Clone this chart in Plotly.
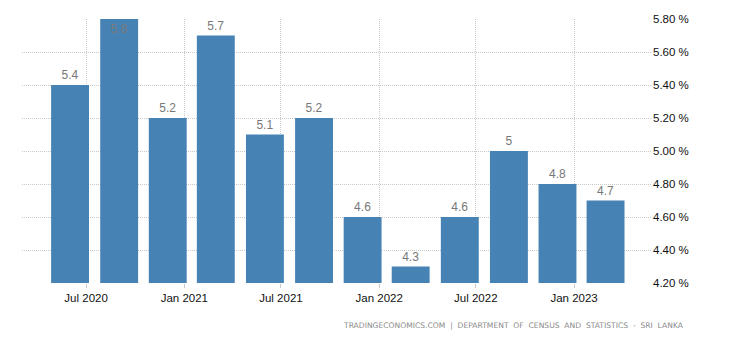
import plotly.graph_objects as go

dates = ["2020-06-01", "2020-09-01", "2020-12-01", "2021-03-01", "2021-06-01", "2021-09-01",
         "2021-12-01", "2022-03-01", "2022-06-01", "2022-09-01", "2022-12-01", "2023-03-01"]
values = [5.4, 5.8, 5.2, 5.7, 5.1, 5.2, 4.6, 4.3, 4.6, 5.0, 4.8, 4.7]
labels = ["5.4", "5.8", "5.2", "5.7", "5.1", "5.2", "4.6", "4.3", "4.6", "5", "4.8", "4.7"]
y_range = [4.2, 5.8]
source = "TRADINGECONOMICS.COM  |  DEPARTMENT  OF  CENSUS  AND  STATISTICS  -  SRI  LANKA"

FONT = "Liberation Sans, Arial, sans-serif"
DAY_MS = 86400000
GRID = "#c8c8c8"

positions = ["inside" if v >= y_range[1] else "outside" for v in values]

fig = go.Figure(go.Bar(
    x=dates, y=values, text=labels, textposition=positions,
    insidetextanchor="end", textangle=0,
    width=71 * DAY_MS,
    marker=dict(color="#4682B4", line=dict(width=0)),
    textfont=dict(family=FONT, size=12, color="#777777"),
    insidetextfont=dict(family=FONT, size=12, color="#7a7a7a"),
    outsidetextfont=dict(family=FONT, size=12, color="#777777"),
    hoverinfo="skip",
))

fig.update_layout(
    width=730, height=340,
    margin=dict(l=22, r=78, t=19, b=57),
    paper_bgcolor="white", plot_bgcolor="white",
    showlegend=False,
    font=dict(family=FONT),
    xaxis=dict(
        type="date", range=["2020-03-03", "2023-05-27"],
        tick0="2020-01-01", dtick="M6", tickformat="%b %Y",
        showgrid=True, gridcolor=GRID, griddash="1px,1px", gridwidth=1,
        ticks="outside", ticklen=4, tickcolor=GRID,
        tickfont=dict(family=FONT, size=11.5, color="#111111"),
        showline=False, zeroline=False,
    ),
    yaxis=dict(
        side="right", range=y_range, dtick=0.2, tick0=4.2,
        tickformat=".2f", ticksuffix=" %",
        showgrid=True, gridcolor=GRID, griddash="1px,1px", gridwidth=1,
        ticks="", tickfont=dict(family=FONT, size=11.5, color="#111111"),
        showline=False, zeroline=False,
    ),
    annotations=[dict(
        text=source, xref="paper", yref="paper",
        x=(686 - 22) / 630, y=-(325 - 283) / 264,
        xanchor="right", yanchor="middle", showarrow=False,
        font=dict(family="DejaVu Sans, sans-serif", size=7.6, color="#8a8a8a"),
    )],
)

fig.write_html("out.html")
